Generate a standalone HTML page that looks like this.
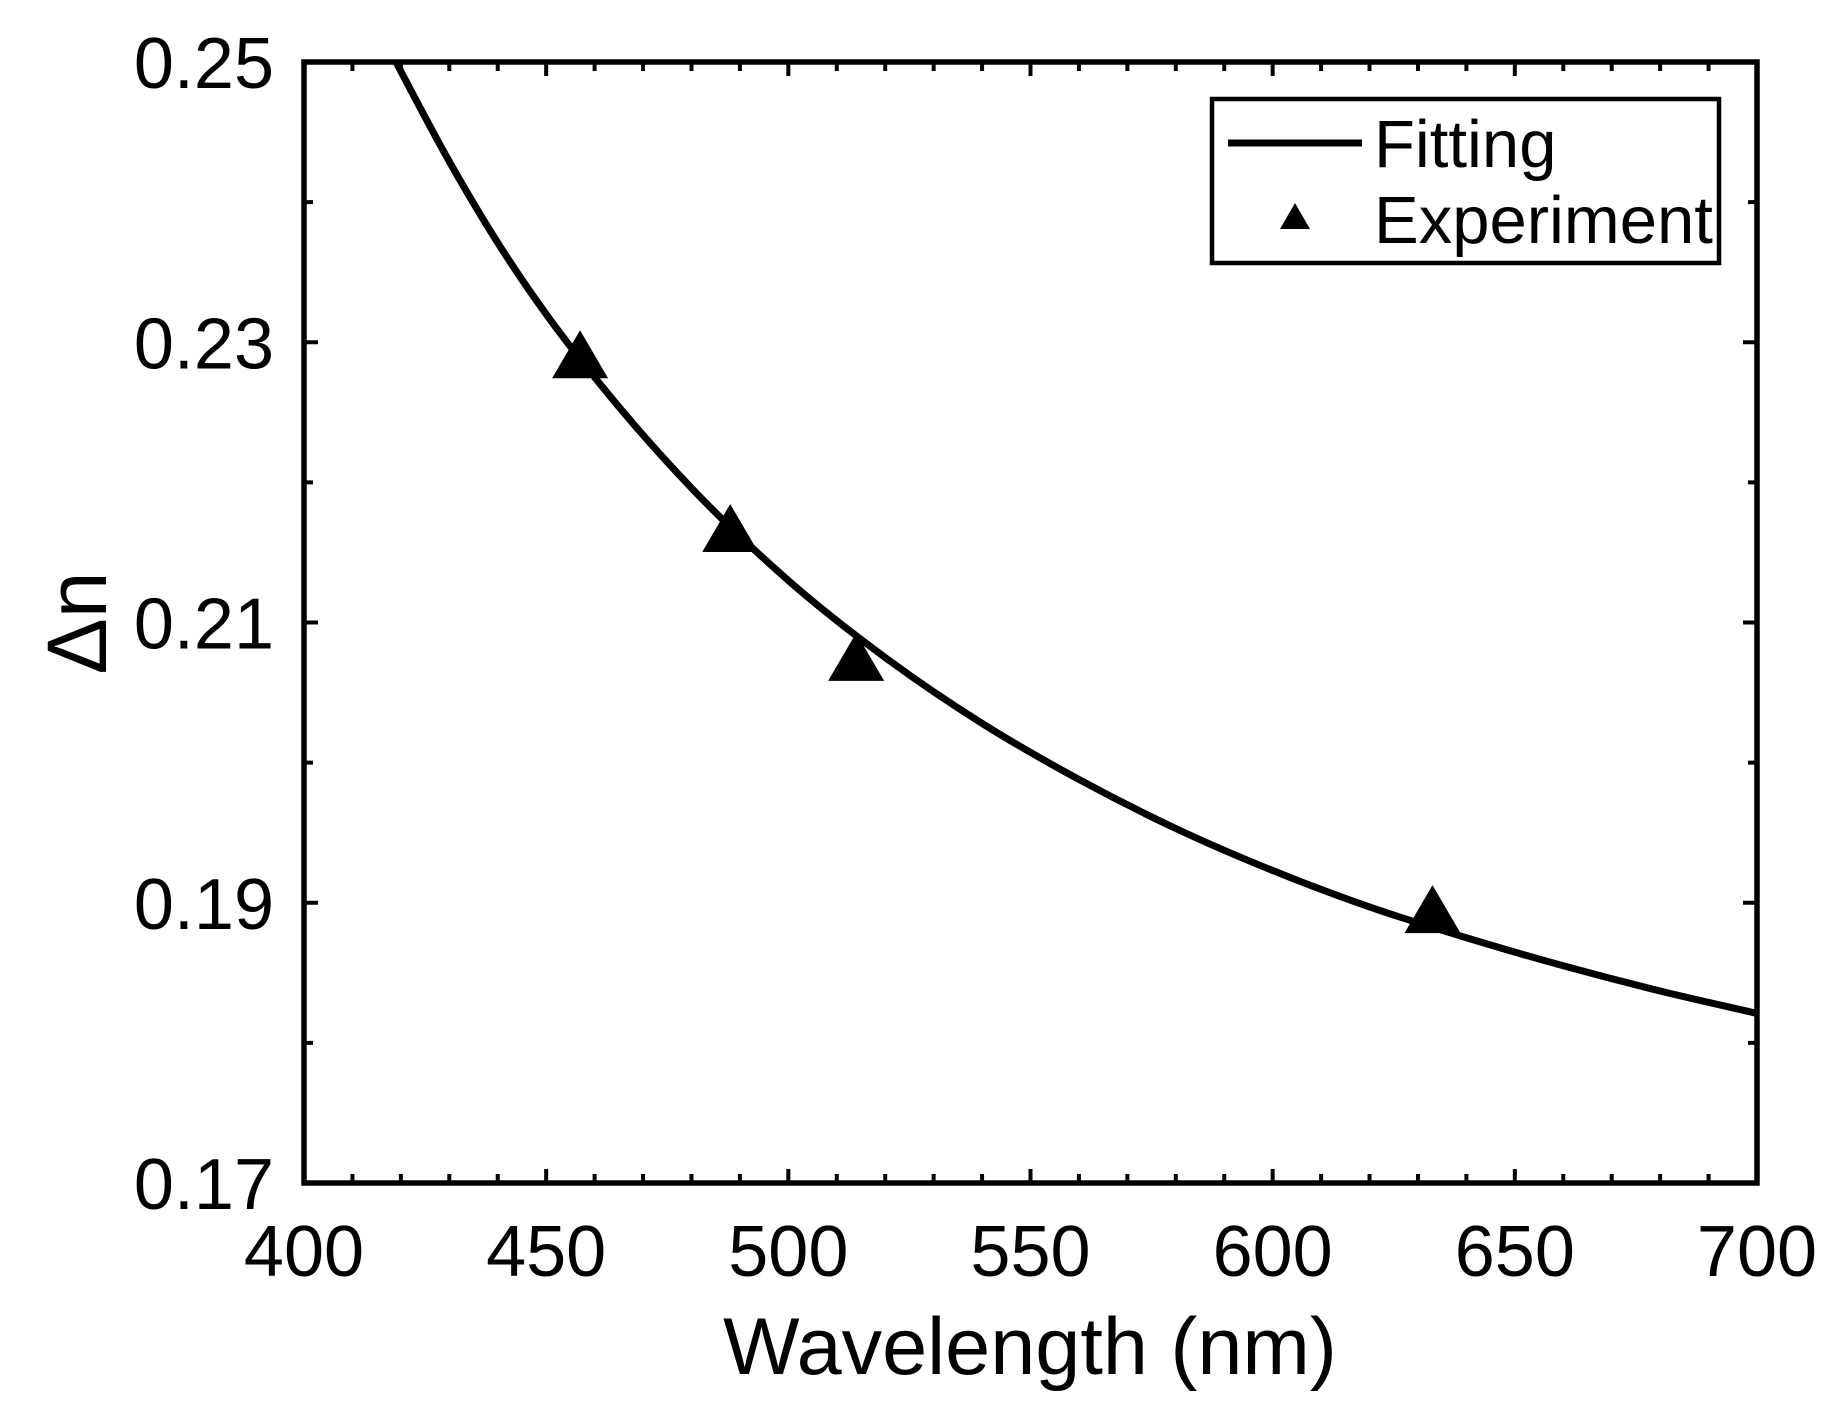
<!DOCTYPE html>
<html><head><meta charset="utf-8"><style>
html,body{margin:0;padding:0;background:#fff;}
svg{display:block;font-family:"Liberation Sans",Arial,sans-serif;}
</style></head><body>
<svg id="chart" width="1844" height="1416" viewBox="0 0 1844 1416" xmlns="http://www.w3.org/2000/svg">
<rect x="0" y="0" width="1844" height="1416" fill="#fff"/>
<g id="g-curve"></g>
<g id="g-points"></g>
<g id="g-axes"></g>
<g>
<rect x="1212" y="99" width="507" height="164" fill="#fff" stroke="#000" stroke-width="4.5"/>
<line x1="1228" y1="143" x2="1362" y2="143" stroke="#000" stroke-width="7"/>
<text x="1374" y="167" font-size="67" fill="#000">Fitting</text>
<polygon points="1295,203 1280,229 1310,229" fill="#000"/>
<text x="1374" y="243" font-size="67" fill="#000">Experiment</text>
</g>
<text x="1030" y="1374" font-size="81" text-anchor="middle" fill="#000">Wavelength (nm)</text>
<text transform="translate(106,623) rotate(-90)" font-size="84" text-anchor="middle" fill="#000">Δn</text>
</svg>
<script>
const curveWavelengths=[419,430,440,450,460,480,500,520,540,560,580,600,620,640,660,680,700];
const curveValues=[0.2500,0.2429,0.2371,0.2320,0.2275,0.2196,0.2130,0.2075,0.2028,0.1988,0.1953,0.1923,0.1897,0.1875,0.1855,0.1837,0.1821];
const expWavelengths=[457,488,514,633];
const expValues=[0.2290,0.2166,0.2074,0.1894];
const xTicks=[400,450,500,550,600,650,700];
const xTickLabels=["400","450","500","550","600","650","700"];
const yTicks=[0.17,0.19,0.21,0.23,0.25];
const yTickLabels=["0.17","0.19","0.21","0.23","0.25"];

const L=304,R=1757,T=62,B=1183;
const X0=400,X1=700,Y0=0.17,Y1=0.25;
function sx(v){return L+(v-X0)/(X1-X0)*(R-L);}
function sy(v){return B-(v-Y0)/(Y1-Y0)*(B-T);}
const NS="http://www.w3.org/2000/svg";
function mk(tag,parent,attrs){const e=document.createElementNS(NS,tag);for(const k in attrs)e.setAttribute(k,attrs[k]);parent.appendChild(e);return e;}

const gc=document.getElementById('g-curve');
const P=curveWavelengths.map((w,i)=>[sx(w),sy(curveValues[i])]);
const n=P.length;
const m=P.map((p,i)=>{
  if(i===0) return (P[1][1]-P[0][1])/(P[1][0]-P[0][0])*1.5-((P[2][1]-P[0][1])/(P[2][0]-P[0][0]))*0.5;
  if(i===n-1) return (P[n-1][1]-P[n-2][1])/(P[n-1][0]-P[n-2][0]);
  const s0=(P[i][1]-P[i-1][1])/(P[i][0]-P[i-1][0]);
  const s1=(P[i+1][1]-P[i][1])/(P[i+1][0]-P[i][0]);
  const h0=P[i][0]-P[i-1][0],h1=P[i+1][0]-P[i][0];
  return (s0*h1+s1*h0)/(h0+h1);
});
let d="M"+P[0][0]+","+P[0][1];
for(let i=0;i<n-1;i++){
  const h=P[i+1][0]-P[i][0];
  const c1=[P[i][0]+h/3,P[i][1]+m[i]*h/3];
  const c2=[P[i+1][0]-h/3,P[i+1][1]-m[i+1]*h/3];
  d+=" C"+c1[0]+","+c1[1]+" "+c2[0]+","+c2[1]+" "+P[i+1][0]+","+P[i+1][1];
}
const path=mk('path',gc,{d:d,fill:"none",stroke:"#000","stroke-width":"7"});



const gp=document.getElementById('g-points');
expWavelengths.forEach((w,i)=>{
  const cx=sx(w),cy=sy(expValues[i]);
  const tri=mk('polygon',gp,{points:`${cx},${cy-26} ${cx-28},${cy+22} ${cx+28},${cy+22}`,fill:"#000"});
  
  
});

const ga=document.getElementById('g-axes');
const box=mk('rect',ga,{x:L,y:T,width:R-L,height:B-T,fill:"none",stroke:"#000","stroke-width":"5.5"});


for(let k=0;k<=30;k++){
  const v=X0+k*10;const x=sx(v);const major=(k%5===0);const len=major?14:9;
  mk('line',ga,{x1:x,y1:B,x2:x,y2:B-len,stroke:"#000","stroke-width":"4"});
  mk('line',ga,{x1:x,y1:T,x2:x,y2:T+len,stroke:"#000","stroke-width":"4"});
}
xTicks.forEach((v,i)=>{
  const t=mk('text',ga,{x:sx(v),y:1276,"font-size":"72","text-anchor":"middle",fill:"#000"});
  t.textContent=xTickLabels[i];
  
  
});
for(let k=0;k<=8;k++){
  const v=Y0+k*0.01;const y=sy(v);const major=(k%2===0);const len=major?14:9;
  mk('line',ga,{x1:L,y1:y,x2:L+len,y2:y,stroke:"#000","stroke-width":"4"});
  mk('line',ga,{x1:R,y1:y,x2:R-len,y2:y,stroke:"#000","stroke-width":"4"});
}
yTicks.forEach((v,i)=>{
  const t=mk('text',ga,{x:274,y:sy(v)+26,"font-size":"72","text-anchor":"end",fill:"#000"});
  t.textContent=yTickLabels[i];
  
  
});
</script>
</body></html>
